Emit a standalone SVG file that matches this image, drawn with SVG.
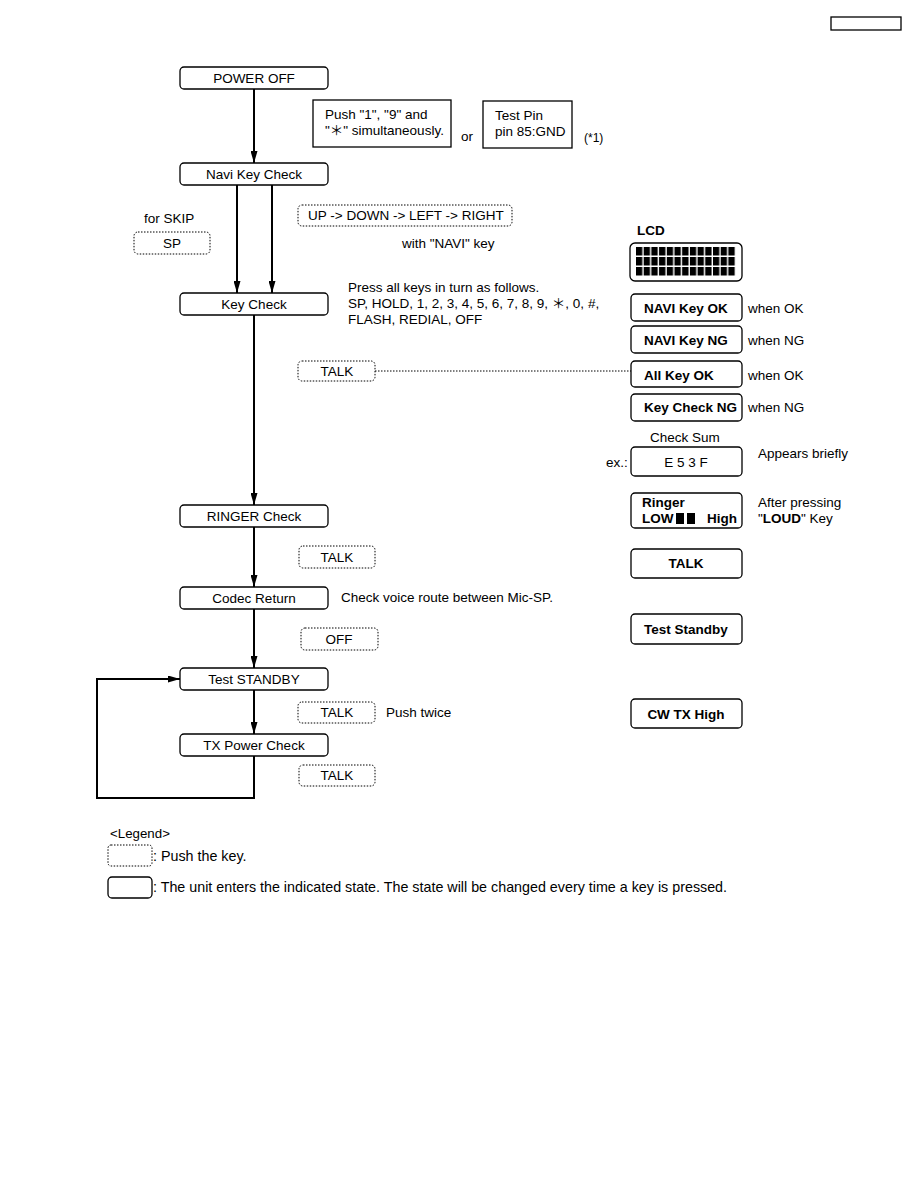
<svg xmlns="http://www.w3.org/2000/svg" width="918" height="1188" viewBox="0 0 918 1188">
<defs>
<style>
text{font-family:"Liberation Sans","Noto Sans CJK JP",sans-serif;font-size:13.5px;fill:#000}
.b{font-weight:bold}
.c{text-anchor:middle}
.node{fill:#fff;stroke:#000;stroke-width:1.3}
.key{fill:#fff;stroke:#000;stroke-width:1;stroke-dasharray:1.5 1.5}
.lcd{fill:#fff;stroke:#000;stroke-width:1.3}
.box{fill:#fff;stroke:#000;stroke-width:1.3}
.ln{fill:none;stroke:#000;stroke-width:2}
.lg{font-size:14.3px}
</style>
<marker id="a" viewBox="0 0 12 7" refX="12" refY="3.5" markerWidth="12" markerHeight="7" orient="auto" markerUnits="userSpaceOnUse">
<path d="M0,0 L12,3.5 L0,7 z" fill="#000"/>
</marker>
<pattern id="blk" x="636" y="247" width="7.7" height="10" patternUnits="userSpaceOnUse">
<rect x="0" y="0" width="6.3" height="8.5" fill="#000"/>
</pattern>
</defs>
<rect x="831" y="17" width="70" height="13" fill="none" stroke="#000" stroke-width="1.3"/>
<g id="connectors">
<line class="ln" x1="254" y1="89" x2="254" y2="163" marker-end="url(#a)"/>
<line class="ln" x1="237" y1="185" x2="237" y2="293" marker-end="url(#a)"/>
<line class="ln" x1="272" y1="185" x2="272" y2="293" marker-end="url(#a)"/>
<line class="ln" x1="254" y1="315" x2="254" y2="505" marker-end="url(#a)"/>
<line class="ln" x1="254" y1="527" x2="254" y2="587" marker-end="url(#a)"/>
<line class="ln" x1="254" y1="609" x2="254" y2="668" marker-end="url(#a)"/>
<line class="ln" x1="254" y1="690" x2="254" y2="734" marker-end="url(#a)"/>
<polyline class="ln" points="254,756 254,798 97,798 97,679 180,679" marker-end="url(#a)"/>
<line x1="375" y1="371" x2="631" y2="371" stroke="#000" stroke-width="1" stroke-dasharray="1.5 1.5"/>
</g>
<g id="n-poweroff"><rect class="node" x="180" y="67" width="148" height="22" rx="4"/><text class="c" x="254" y="83">POWER OFF</text></g>
<g id="n-push"><rect class="box" x="313" y="100" width="138" height="47"/><text x="325" y="119">Push "1", "9" and</text><text x="325" y="135">"＊" simultaneously.</text></g>
<g id="t-or"><text x="461" y="141">or</text></g>
<g id="n-testpin"><rect class="box" x="483" y="101" width="89" height="47"/><text x="495" y="120">Test Pin</text><text x="495" y="136">pin 85:GND</text></g>
<g id="t-note"><text x="584" y="142" style="font-size:12px">(*1)</text></g>
<g id="n-navi"><rect class="node" x="180" y="163" width="148" height="22" rx="4"/><text class="c" x="254" y="179">Navi Key Check</text></g>
<g id="t-skip"><text x="144" y="223">for SKIP</text></g>
<g id="k-sp"><rect class="key" x="134" y="232" width="76" height="22" rx="4"/><text class="c" x="172" y="248">SP</text></g>
<g id="k-updown"><rect class="key" x="298" y="205" width="214" height="21" rx="4"/><text x="308" y="220">UP -&gt; DOWN -&gt; LEFT -&gt; RIGHT</text></g>
<g id="t-navi"><text x="402" y="248">with "NAVI" key</text></g>
<g id="n-keycheck"><rect class="node" x="180" y="293" width="148" height="22" rx="4"/><text class="c" x="254" y="309">Key Check</text></g>
<g id="t-press"><text x="348" y="292">Press all keys in turn as follows.</text><text x="348" y="308">SP, HOLD, 1, 2, 3, 4, 5, 6, 7, 8, 9, ＊, 0, #,</text><text x="348" y="324">FLASH, REDIAL, OFF</text></g>
<g id="k-talk1"><rect class="key" x="298" y="361" width="77" height="20" rx="4"/><text class="c" x="337" y="376">TALK</text></g>
<g id="n-ringer"><rect class="node" x="180" y="505" width="148" height="22" rx="4"/><text class="c" x="254" y="521">RINGER Check</text></g>
<g id="k-talk2"><rect class="key" x="299" y="546" width="76" height="22" rx="4"/><text class="c" x="337" y="562">TALK</text></g>
<g id="n-codec"><rect class="node" x="180" y="587" width="148" height="22" rx="4"/><text class="c" x="254" y="603">Codec Return</text></g>
<g id="t-codec"><text x="341" y="602">Check voice route between Mic-SP.</text></g>
<g id="k-off"><rect class="key" x="301" y="628" width="77" height="22" rx="4"/><text class="c" x="339" y="644">OFF</text></g>
<g id="n-standby"><rect class="node" x="180" y="668" width="148" height="22" rx="4"/><text class="c" x="254" y="684">Test STANDBY</text></g>
<g id="k-talk3"><rect class="key" x="298" y="702" width="77" height="21" rx="4"/><text class="c" x="337" y="717">TALK</text></g>
<g id="t-twice"><text x="386" y="717">Push twice</text></g>
<g id="n-txpower"><rect class="node" x="180" y="734" width="148" height="22" rx="4"/><text class="c" x="254" y="750">TX Power Check</text></g>
<g id="k-talk4"><rect class="key" x="299" y="765" width="76" height="21" rx="4"/><text class="c" x="337" y="780">TALK</text></g>
<g id="lcd-main"><text class="b" x="637" y="235">LCD</text><rect class="lcd" x="630" y="243" width="112" height="38" rx="5"/><rect x="636" y="247" width="100" height="30" fill="url(#blk)"/></g>
<g id="lcd-naviok"><rect class="lcd" x="631" y="294" width="111" height="27" rx="4"/><text class="b" x="644" y="313">NAVI Key OK</text><text x="748" y="313">when OK</text></g>
<g id="lcd-naving"><rect class="lcd" x="631" y="326" width="111" height="27" rx="4"/><text class="b" x="644" y="345">NAVI Key NG</text><text x="748" y="345">when NG</text></g>
<g id="lcd-allok"><rect class="lcd" x="631" y="361" width="111" height="26" rx="4"/><text class="b" x="644" y="380">All Key OK</text><text x="748" y="380">when OK</text></g>
<g id="lcd-keyng"><rect class="lcd" x="631" y="394" width="111" height="27" rx="4"/><text class="b" x="644" y="412">Key Check NG</text><text x="748" y="412">when NG</text></g>
<g id="lcd-sum"><text x="650" y="442">Check Sum</text><text x="606" y="467">ex.:</text><rect class="lcd" x="631" y="447" width="111" height="29" rx="4"/><text class="c" x="686" y="467">E 5 3 F</text><text x="758" y="458">Appears briefly</text></g>
<g id="lcd-ringer"><rect class="lcd" x="631" y="493" width="111" height="35" rx="4"/><text class="b" x="642" y="507">Ringer</text><text class="b" x="642" y="523">LOW</text><rect x="676" y="513" width="8" height="11" fill="#000"/><rect x="687" y="513" width="8" height="11" fill="#000"/><text class="b" x="707" y="523">High</text><text x="758" y="507">After pressing</text><text x="758" y="523">"<tspan class="b">LOUD</tspan>" Key</text></g>
<g id="lcd-talk"><rect class="lcd" x="631" y="549" width="111" height="29" rx="4"/><text class="b c" x="686" y="568">TALK</text></g>
<g id="lcd-standby"><rect class="lcd" x="631" y="614" width="111" height="30" rx="4"/><text class="b c" x="686" y="634">Test Standby</text></g>
<g id="lcd-cw"><rect class="lcd" x="631" y="699" width="111" height="29" rx="4"/><text class="b c" x="686" y="719">CW TX High</text></g>
<g id="legend">
<text x="110" y="838" style="font-size:13.3px">&lt;Legend&gt;</text>
<rect class="key" x="108" y="845" width="44" height="21" rx="3"/>
<text class="lg" x="153" y="861">: Push the key.</text>
<rect class="node" x="108" y="877" width="44" height="21" rx="4"/>
<text class="lg" x="153" y="892">: The unit enters the indicated state. The state will be changed every time a key is pressed.</text>
</g>
</svg>
